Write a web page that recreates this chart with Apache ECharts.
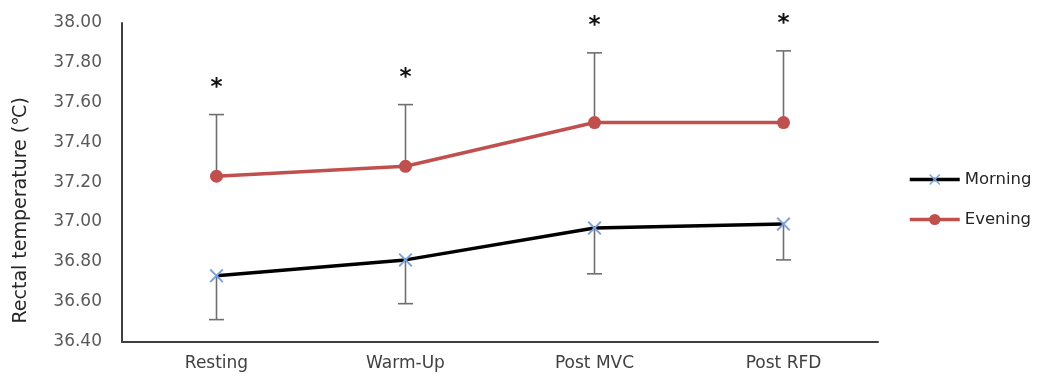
<!DOCTYPE html>
<html>
<head>
<meta charset="utf-8">
<script src="https://cdn.jsdelivr.net/npm/echarts@6/dist/echarts.min.js"></script>
<style>
html,body{margin:0;padding:0;background:#fff;}
#chart{width:1045px;height:381px;}
</style>
</head>
<body>
<div id="chart"></div>
<script>
// ---- data ----
const categories = ['Resting', 'Warm-Up', 'Post MVC', 'Post RFD'];
const morningMean = [36.73, 36.81, 36.97, 36.99];
const morningSD   = [0.22, 0.22, 0.23, 0.18];
const eveningMean = [37.23, 37.28, 37.50, 37.50];
const eveningSD   = [0.31, 0.31, 0.35, 0.36];
const significant = [true, true, true, true];
const yTicks = { min: 36.4, max: 38.0, interval: 0.2 };

const FONT = 'DejaVu Sans';
const chart = echarts.init(document.getElementById('chart'));

function errorBarSeries(name, mean, sd, dir) {
  return {
    name: name,
    type: 'custom',
    z: 1,
    silent: true,
    data: mean.map((m, i) => [i, m, m + dir * sd[i]]),
    renderItem: function (params, api) {
      const x = api.value(0);
      const p0 = api.coord([x, api.value(1)]);
      const p1 = api.coord([x, api.value(2)]);
      const half = 7.5;
      const style = { stroke: '#6f6f6f', lineWidth: 1.6, fill: null };
      return {
        type: 'group',
        children: [
          { type: 'line', shape: { x1: p0[0], y1: p0[1], x2: p1[0], y2: p1[1] }, style: style },
          { type: 'line', shape: { x1: p1[0] - half, y1: p1[1], x2: p1[0] + half, y2: p1[1] }, style: style }
        ]
      };
    }
  };
}

const option = {
  animation: false,
  backgroundColor: '#ffffff',
  grid: { left: 122, right: 167, top: 23, bottom: 39.5, containLabel: false },
  legend: {
    data: ['Morning', 'Evening'],
    orient: 'vertical',
    left: 903,
    top: 166,
    itemWidth: 50,
    itemHeight: 14,
    itemGap: 23,
    lineStyle: { width: 3.5 },
    textStyle: { fontFamily: FONT, fontSize: 16.5, color: '#262626' }
  },
  xAxis: {
    type: 'category',
    data: categories,
    boundaryGap: true,
    axisLine: { lineStyle: { color: '#404040', width: 2 } },
    axisTick: { show: false },
    axisLabel: { margin: 14, fontFamily: FONT, fontSize: 17, color: '#404040' },
    splitLine: { show: false }
  },
  yAxis: {
    type: 'value',
    min: yTicks.min,
    max: yTicks.max,
    interval: yTicks.interval,
    axisLine: { show: true, lineStyle: { color: '#404040', width: 2 } },
    axisTick: { show: false },
    splitLine: { show: false },
    axisLabel: {
      margin: 20, fontFamily: FONT, fontSize: 17, color: '#595959',
      formatter: v => v.toFixed(2)
    }
  },
  graphic: [{
    type: 'text',
    left: 12,
    top: 97,
    rotation: Math.PI / 2,
    style: {
      text: 'Rectal temperature (℃)',
      font: '19px "' + FONT + '"',
      fill: '#262626'
    }
  }],
  series: [
    errorBarSeries('morningErr', morningMean, morningSD, -1),
    errorBarSeries('eveningErr', eveningMean, eveningSD, 1),
    {
      name: 'Morning',
      type: 'line',
      z: 3,
      data: morningMean,
      lineStyle: { color: '#000000', width: 3.5 },
      symbol: 'path://M1,0 L5,4 L9,0 L10,1 L6,5 L10,9 L9,10 L5,6 L1,10 L0,9 L4,5 L0,1 Z',
      symbolSize: 14,
      itemStyle: { color: '#7ba3d6' },
      color: '#000000'
    },
    {
      name: 'Evening',
      type: 'line',
      z: 3,
      data: eveningMean,
      lineStyle: { color: '#c0504d', width: 3.5 },
      symbol: 'circle',
      symbolSize: 13,
      itemStyle: { color: '#c0504d' }
    },
    {
      name: 'sig',
      type: 'custom',
      z: 4,
      clip: false,
      silent: true,
      data: eveningMean.map((m, i) => [i, m + eveningSD[i], significant[i] ? 1 : 0]),
      renderItem: function (params, api) {
        if (!api.value(2)) return null;
        const p = api.coord([api.value(0), api.value(1)]);
        return {
          type: 'text',
          x: p[0],
          y: p[1] - 27,
          style: {
            text: '*',
            font: 'bold 23px "' + FONT + '"',
            fill: '#111111',
            align: 'center',
            verticalAlign: 'middle'
          }
        };
      }
    }
  ]
};
chart.setOption(option);
</script>
</body>
</html>
